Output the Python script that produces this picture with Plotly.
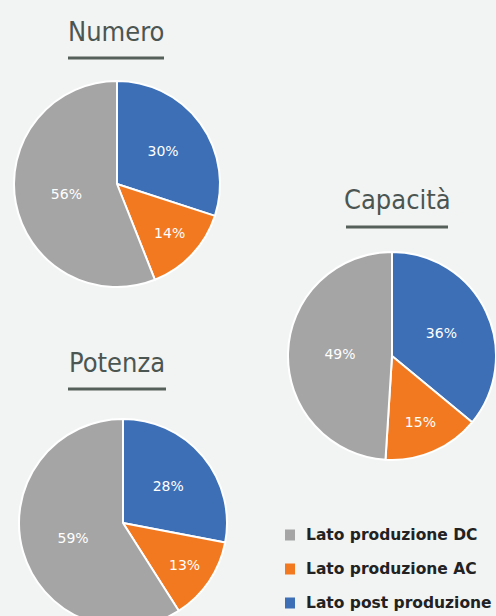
import plotly.graph_objects as go

# Categories (legend order) and their colours
categories = ["Lato produzione DC", "Lato produzione AC", "Lato post produzione"]
colors = ["#a5a5a5", "#f27920", "#3c6fb6"]

# Share of each category (%) for the three indicators, in legend order
numero = [56, 14, 30]
capacita = [49, 15, 36]
potenza = [59, 13, 28]

titles = ["Numero", "Capacità", "Potenza"]

W, H = 496, 630
BG = "#f2f3f3"
TITLE_COLOR = "#4b5551"


def px_x(x):
    return x / W


def px_y(y):
    return 1 - y / H


# pie placement in pixels: (centre x, centre y, radius)
pies = [
    (numero, (117, 184, 103)),
    (capacita, (392, 356, 104)),
    (potenza, (123, 523, 104)),
]
# title placement in pixels: (centre x, text y, underline y, underline half-width)
title_pos = [(116, 31, 58, 48), (397, 199, 227, 51), (117, 362, 389, 49)]

fig = go.Figure()
for vals, (cx, cy, r) in pies:
    # slices run clockwise from 12 o'clock: post produzione, AC, DC
    fig.add_trace(go.Pie(
        labels=categories[::-1],
        values=vals[::-1],
        sort=False,
        direction="clockwise",
        rotation=0,
        marker=dict(colors=colors[::-1], line=dict(color="white", width=2)),
        textinfo="percent",
        textposition="inside",
        insidetextorientation="horizontal",
        insidetextfont=dict(color="white", size=14, family="DejaVu Sans"),
        domain=dict(x=[px_x(cx - r), px_x(cx + r)],
                    y=[px_y(cy + r), px_y(cy - r)]),
        showlegend=False,
        hoverinfo="label+percent",
    ))

# headings with underline
for t, (tx, ty, uy, hw) in zip(titles, title_pos):
    fig.add_annotation(
        x=px_x(tx), y=px_y(ty), xref="paper", yref="paper",
        text=t, showarrow=False, xanchor="center", yanchor="middle",
        font=dict(family="DejaVu Sans Condensed", size=27, color=TITLE_COLOR),
    )
    fig.add_shape(
        type="line", xref="paper", yref="paper",
        x0=px_x(tx - hw), x1=px_x(tx + hw), y0=px_y(uy), y1=px_y(uy),
        line=dict(color="#56605b", width=3),
    )

# legend: square swatch + label per category
legend_rows = [535, 569, 603]
for cat, col, ry in zip(categories, colors, legend_rows):
    fig.add_shape(
        type="rect", xref="paper", yref="paper",
        x0=px_x(285), x1=px_x(295), y0=px_y(ry + 5.5), y1=px_y(ry - 5.5),
        fillcolor=col, line=dict(width=0),
    )
    fig.add_annotation(
        x=px_x(304), y=px_y(ry), xref="paper", yref="paper",
        text=cat, showarrow=False, xanchor="left", yanchor="middle",
        font=dict(family="DejaVu Sans", size=15.5, weight="bold", color="#222222"),
    )

fig.update_layout(
    width=W, height=H,
    margin=dict(l=0, r=0, t=0, b=0),
    paper_bgcolor=BG, plot_bgcolor=BG,
    showlegend=False,
)

fig.write_html("out.html", post_script="document.body.style.margin='0';document.body.style.overflow='hidden';")
